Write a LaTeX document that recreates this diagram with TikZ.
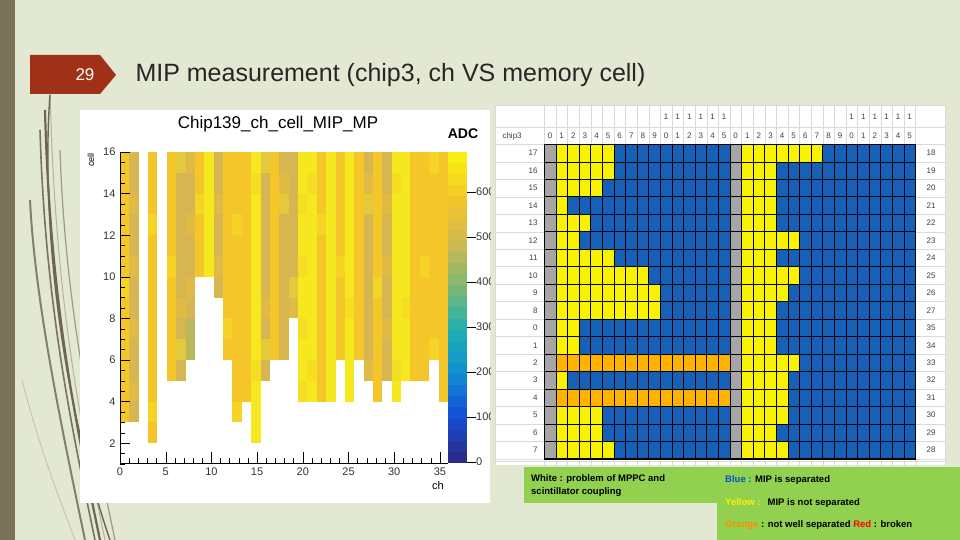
\documentclass[tikz,border=0pt]{standalone}
\usepackage{fontspec}
\setmainfont{Liberation Sans}
\definecolor{bgc}{HTML}{E3E8D2}
\definecolor{barc}{HTML}{7A7258}
\definecolor{redb}{HTML}{A03018}
\definecolor{cG}{HTML}{F4C62A}
\definecolor{cT}{HTML}{D6B650}
\definecolor{cY}{HTML}{F6E81E}
\definecolor{cV}{HTML}{B9B85A}
\definecolor{sY}{HTML}{F8F200}
\definecolor{sB}{HTML}{1660B8}
\definecolor{sO}{HTML}{FFB200}
\definecolor{sG}{HTML}{A6A6A6}
\definecolor{legc}{HTML}{92D050}
\definecolor{curvec}{HTML}{6E6650}
\definecolor{p0}{HTML}{2A2C8C}
\definecolor{p1}{HTML}{1450D8}
\definecolor{p2}{HTML}{1090D0}
\definecolor{p3}{HTML}{20B0B0}
\definecolor{p4}{HTML}{80B870}
\definecolor{p5}{HTML}{D0B850}
\definecolor{p6}{HTML}{F4C62A}
\definecolor{p7}{HTML}{F8F010}
\begin{document}
\begin{tikzpicture}[x=1pt,y=-1pt,
  ticklab/.style={font=\fontsize{11}{11}\selectfont,text=black!80},
  hdr/.style={font=\fontsize{8}{8}\selectfont,text=black!75},
  leg/.style={font=\bfseries\fontsize{9.5}{11}\selectfont,anchor=west,inner sep=0pt}]
\useasboundingbox (0,0) rectangle (960,540);
\fill[bgc] (0,0) rectangle (960,540);
\fill[barc] (0,0) rectangle (15,540);
% decorative curves
\foreach \a/\b/\w/\o in {45/110/2.2/1,40/130/1.6/0.9,60/150/1.2/0.6,30/200/2/0.8,50/90/1/0.4}{
  \draw[curvec,line width=\w pt,opacity=\o] (\a,\b) .. controls (\a+5,300) and (\a+30,420) .. (\a+55,540);}
\draw[curvec,line width=1.4pt] (50,95) .. controls (42,200) and (55,380) .. (110,540);
\draw[curvec!60,line width=1pt,opacity=.5] (22,380) .. controls (40,450) and (60,500) .. (75,540);
% banner
\fill[redb] (30,55) -- (100,55) -- (116,75) -- (100,94) -- (30,94) -- cycle;
\node[text=white,font=\fontsize{17}{17}\selectfont] (num) at (85,75) {29};
\node[anchor=west,font=\fontsize{25}{25}\selectfont,text=black!85] (title) at (132,75) {MIP measurement (chip3, ch VS memory cell)};
% left plot
\fill[white] (80,110) rectangle (490,503);
\begin{scope}
\clip (80,110) rectangle (490,503);
\foreach \c/\b/\col in {0/3/G,1/3/T,3/2/G,5/5/G,6/5/T,7/6/T,8/10/G,9/10/Y,10/9/T,11/6/G,12/3/G,13/4/G,14/2/Y,15/5/T,16/6/G,17/6/T,18/8/T,19/4/Y,20/4/Y,21/4/G,22/4/Y,23/6/G,24/4/Y,25/6/G,26/5/T,27/4/G,28/5/T,29/4/Y,30/5/Y,31/5/G,32/5/G,33/6/G,34/4/G}{
  \foreach \v in {\b,...,15}{
    \pgfmathtruncatemacro\r{mod(\c*7+\v*5+\c*\v,9)}
    \ifnum\r=0 \def\fc{c\col!60!cY}\else\ifnum\r=4 \def\fc{c\col!70!cG}\else\def\fc{c\col}\fi\fi
    \fill[\fc] (120+\c*9.37,{152+(15-\v)*20.8}) rectangle (120+\c*9.37+9.37,{152+(16-\v)*20.8});
  }}
\fill[cV] (120+7*9.37,{152+8*20.8}) rectangle (120+8*9.37,{152+10*20.8});
% palette (discrete bands, bottom to top)
\foreach \k in {0,...,27}{
  \pgfmathsetmacro\pos{\k/27*7}
  \pgfmathtruncatemacro\lo{floor(\pos)}
  \pgfmathtruncatemacro\hi{min(\lo+1,7)}
  \pgfmathtruncatemacro\fr{round((\pos-\lo)*100)}
  \fill[p\hi!\fr!p\lo] (448,{463-\k*11.11}) rectangle (467,{463-(\k+1)*11.11-0.3});}
\foreach \t/\y in {0/462,100/417,200/372,300/327,400/282,500/237,600/192}{
  \draw (467,\y) -- (476,\y);
  \node[ticklab,anchor=west,inner sep=0pt] at (476,\y) {\t};}
\end{scope}
\node[font=\fontsize{17}{17}\selectfont] (ptitle) at (278,124) {Chip139\_ch\_cell\_MIP\_MP};
\node[font=\bfseries\fontsize{14}{14}\selectfont] (adc) at (463,134) {ADC};
\node[font=\fontsize{9}{9}\selectfont,rotate=90] (ylab) at (91,160) {cell};
\node[font=\fontsize{11}{11}\selectfont] (xlab) at (438,486) {ch};
\draw (120,152) -- (120,463) -- (448,463);
\foreach \k in {0,...,30}{\draw (120,{152+\k*10.4}) -- (125,{152+\k*10.4});}
\foreach \v in {2,4,...,16}{\draw (120,{152+(16-\v)*20.8}) -- (130,{152+(16-\v)*20.8});
  \node[ticklab,anchor=east] at (119,{152+(16-\v)*20.8}) {\v};}
\foreach \k in {0,...,35}{\draw (120+\k*9.14,463) -- (120+\k*9.14,458);}
\foreach \v in {0,5,...,35}{\draw (120+\v*9.14,463) -- (120+\v*9.14,452);
  \node[ticklab] at (120+\v*9.14,472) {\v};}
% right table
\fill[white] (495,105) rectangle (945,465);
\foreach \i in {0,...,32}{\draw[black!15] (544.3+\i*11.6,105) -- (544.3+\i*11.6,465);}
\draw[black!15] (495,105) -- (495,465) (945,105)--(945,465);
\foreach \y in {105,127.7,144.3,461.5}{\draw[black!15] (495,\y) -- (945,\y);}
\foreach \j in {0,...,18}{\draw[black!15] (495,144.3+\j*17.48) -- (945,144.3+\j*17.48);}
\foreach \i in {0,...,31}{
  \pgfmathtruncatemacro\d{mod(\i,16)}
  \pgfmathtruncatemacro\u{mod(\d,10)}
  \node[hdr] at (550.1+\i*11.6,136) {\u};
  \ifnum\d>9 \node[hdr] at (550.1+\i*11.6,117) {1};\fi}
\node[hdr,anchor=west] (chip) at (499,136) {chip3};
\foreach \j/\ll/\rl/\lc/\lo/\rc in {0/17/18/5/0/7,1/16/19/5/0/3,2/15/20/4/0/3,3/14/21/1/0/3,4/13/22/3/0/3,5/12/23/2/0/5,6/11/24/5/0/3,7/10/25/8/0/5,8/9/26/9/0/4,9/8/27/9/0/3,10/0/35/2/0/3,11/1/34/2/0/3,12/2/33/15/1/5,13/3/32/1/0/4,14/4/31/15/1/4,15/5/30/4/0/4,16/6/29/4/0/3,17/7/28/5/0/4}{
  \pgfmathsetmacro\ya{144.3+\j*17.48}
  \pgfmathsetmacro\yb{\ya+17.48}
  \fill[sB] (544.3,\ya) rectangle (915.5,\yb);
  \fill[sG] (544.3,\ya) rectangle (555.9,\yb);
  \fill[sG] (729.9,\ya) rectangle (741.5,\yb);
  \ifnum\lo=1 \fill[sO] (555.9,\ya) rectangle (555.9+\lc*11.6,\yb);
  \else \fill[sY] (555.9,\ya) rectangle (555.9+\lc*11.6,\yb);\fi
  \fill[sY] (741.5,\ya) rectangle (741.5+\rc*11.6,\yb);
  \node[hdr,anchor=east] at (541,\ya+8.7) {\ll};
  \node[hdr] at (931,\ya+8.7) {\rl};
}
\foreach \i in {0,...,32}{\draw[black,line width=.5pt] (544.3+\i*11.6,144.3) -- (544.3+\i*11.6,459);}
\foreach \j in {0,...,18}{\draw[black,line width=.5pt] (544.3,144.3+\j*17.48) -- (915.5,144.3+\j*17.48);}
\draw[black,line width=1.4pt] (544.3,144.3) rectangle (915.5,459);
% legend
\fill[legc] (524,467) rectangle (717,503);
\fill[legc] (717,467) rectangle (960,540);
\node[leg] (w1) at (531,479) {White : problem of MPPC and};
\node[leg] (w2) at (531,492) {scintillator coupling};
\node[leg] (bl) at (725,480) {\textcolor{blue!60!cyan!80!black}{Blue :} MIP is separated};
\node[leg] (ye) at (725,503) {\textcolor{yellow}{Yellow : } MIP is not separated};
\node[leg] (or) at (725,525) {\textcolor{orange!90!yellow}{Orange} : not well separated \textcolor{red}{Red} : broken};
\end{tikzpicture}
\end{document}
